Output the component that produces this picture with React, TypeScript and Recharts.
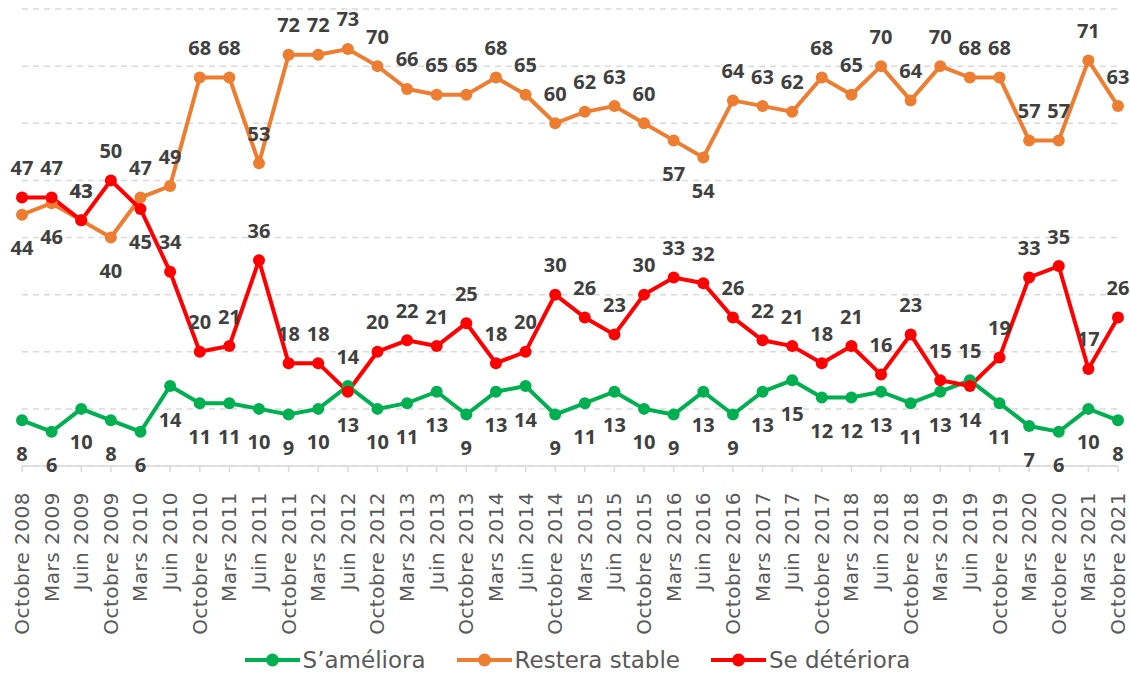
import React from "react";
import { LineChart, Line, XAxis, YAxis, CartesianGrid, Legend } from "recharts";

const periods = [
  "Octobre 2008", "Mars 2009", "Juin 2009", "Octobre 2009", "Mars 2010", "Juin 2010",
  "Octobre 2010", "Mars 2011", "Juin 2011", "Octobre 2011", "Mars 2012", "Juin 2012",
  "Octobre 2012", "Mars 2013", "Juin 2013", "Octobre 2013", "Mars 2014", "Juin 2014",
  "Octobre 2014", "Mars 2015", "Juin 2015", "Octobre 2015", "Mars 2016", "Juin 2016",
  "Octobre 2016", "Mars 2017", "Juin 2017", "Octobre 2017", "Mars 2018", "Juin 2018",
  "Octobre 2018", "Mars 2019", "Juin 2019", "Octobre 2019", "Mars 2020", "Octobre 2020",
  "Mars 2021", "Octobre 2021",
];

const ameliora = [
  8, 6, 10, 8, 6, 14, 11, 11, 10, 9, 10, 14, 10, 11, 13, 9, 13, 14, 9, 11,
  13, 10, 9, 13, 9, 13, 15, 12, 12, 13, 11, 13, 15, 11, 7, 6, 10, 8,
];

const stable = [
  44, 46, 43, 40, 47, 49, 68, 68, 53, 72, 72, 73, 70, 66, 65, 65, 68, 65, 60, 62,
  63, 60, 57, 54, 64, 63, 62, 68, 65, 70, 64, 70, 68, 68, 57, 57, 71, 63,
];

const deteriora = [
  47, 47, 43, 50, 45, 34, 20, 21, 36, 18, 18, 13, 20, 22, 21, 25, 18, 20, 30, 26,
  23, 30, 33, 32, 26, 22, 21, 18, 21, 16, 23, 15, 14, 19, 33, 35, 17, 26,
];

const yTicks = [0, 10, 20, 30, 40, 50, 60, 70, 80];

// points whose value label sits on the other side of the marker
const greenAbove = [11, 32];
const orangeBelow = [0, 1, 3, 22, 23];
const redBelow = [4, 11, 32];

const GREEN = "#00b050";
const ORANGE = "#ed7d31";
const RED = "#ff0000";

const data = periods.map((p, i) => ({
  period: p,
  ameliora: ameliora[i],
  stable: stable[i],
  deteriora: deteriora[i],
}));

const makeLabel = (isBelow: (i: number) => boolean) => (props: any) => {
  const { x, y, value, index } = props;
  const dy = isBelow(index) ? 33 : -30;
  return (
    <text
      key={`lbl-${index}`}
      x={x}
      y={y + dy}
      textAnchor="middle"
      dominantBaseline="central"
      fontFamily="'Noto Sans', sans-serif"
      fontSize={20}
      fontWeight={700}
      fill="#404040"
    >
      {value}
    </text>
  );
};

const AxisTick = (props: any) => {
  const { x, y, payload } = props;
  const py = y + 18;
  return (
    <text
      x={x}
      y={py}
      transform={`rotate(-90, ${x}, ${py})`}
      textAnchor="end"
      dominantBaseline="central"
      fontFamily="'DejaVu Sans', sans-serif"
      fontSize={20}
      letterSpacing={0.5}
      fill="#595959"
    >
      {payload.value}
    </text>
  );
};

const legendItems = [
  { label: "S\u2019améliora", color: GREEN },
  { label: "Restera stable", color: ORANGE },
  { label: "Se détériora", color: RED },
];

const LegendContent = () => (
  <div
    style={{
      display: "flex",
      justifyContent: "center",
      alignItems: "center",
      height: 40,
      paddingTop: 4,
      fontFamily: "'DejaVu Sans', sans-serif",
      fontSize: 23,
      color: "#595959",
    }}
  >
    {legendItems.map((it, i) => (
      <div
        key={it.label}
        style={{ display: "flex", alignItems: "center", marginLeft: i === 0 ? 0 : 31 }}
      >
        <svg width={55} height={14} style={{ marginRight: 3 }}>
          <line x1={0} y1={7} x2={55} y2={7} stroke={it.color} strokeWidth={4} />
          <circle cx={27.5} cy={7} r={6.5} fill={it.color} />
        </svg>
        <span>{it.label}</span>
      </div>
    ))}
  </div>
);

export default function App() {
  return (
    <div style={{ position: "absolute", left: 0, top: 0, background: "#fff" }}>
      <LineChart
        width={1130}
        height={676}
        data={data}
        margin={{ top: 9, right: 12, left: 22, bottom: 0 }}
      >
        <CartesianGrid
          vertical={false}
          stroke="#d9d9d9"
          strokeWidth={1.5}
          strokeDasharray="6 5"
        />
        <XAxis
          dataKey="period"
          interval={0}
          height={170}
          tick={<AxisTick />}
          tickSize={6}
          axisLine={{ stroke: "#d9d9d9", strokeWidth: 1.5 }}
          tickLine={{ stroke: "#d9d9d9", strokeWidth: 1.5 }}
        />
        <YAxis hide domain={[0, 80]} ticks={yTicks} />
        <Legend
          verticalAlign="bottom"
          height={40}
          content={<LegendContent />}
          wrapperStyle={{ left: 0, width: 1155 }}
        />
        <Line
          dataKey="ameliora"
          name="S’améliora"
          stroke={GREEN}
          strokeWidth={4}
          dot={{ r: 6, fill: GREEN, stroke: "none" }}
          isAnimationActive={false}
          label={makeLabel((i) => !greenAbove.includes(i))}
        />
        <Line
          dataKey="stable"
          name="Restera stable"
          stroke={ORANGE}
          strokeWidth={4}
          dot={{ r: 6, fill: ORANGE, stroke: "none" }}
          isAnimationActive={false}
          label={makeLabel((i) => orangeBelow.includes(i))}
        />
        <Line
          dataKey="deteriora"
          name="Se détériora"
          stroke={RED}
          strokeWidth={4}
          dot={{ r: 6, fill: RED, stroke: "none" }}
          isAnimationActive={false}
          label={makeLabel((i) => redBelow.includes(i))}
        />
      </LineChart>
    </div>
  );
}
